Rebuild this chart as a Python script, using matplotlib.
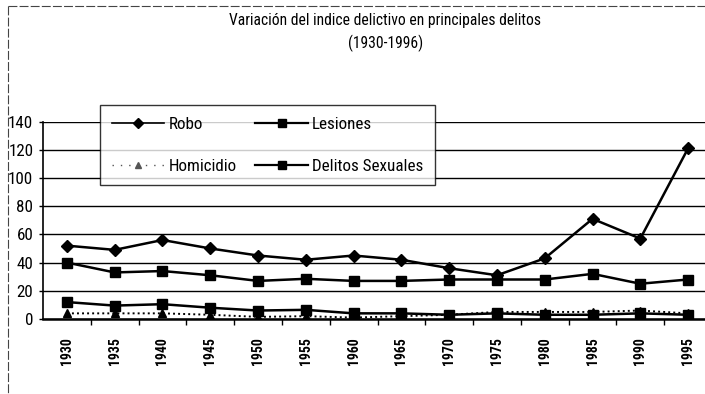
import matplotlib
matplotlib.use("Agg")
import matplotlib.pyplot as plt
from matplotlib import font_manager
from matplotlib.lines import Line2D

years = ["1930", "1935", "1940", "1945", "1950", "1955", "1960",
         "1965", "1970", "1975", "1980", "1985", "1990", "1995"]
robo = [52, 49, 56, 50, 45, 42, 45, 42, 36, 31, 43, 71, 57, 121]
lesiones = [40, 33, 34, 31, 27, 28.5, 27, 27, 28, 28, 28, 32, 25, 28]
homicidio = [4, 4, 4, 3, 1.5, 2, 1, 2, 3, 5, 5, 5, 6, 4]
delitos_sex = [12, 9.5, 10.5, 8, 6, 6.5, 4, 4, 3, 4, 3, 3, 4, 3]
yticks = [0, 20, 40, 60, 80, 100, 120, 140]
title = "Variación del indice delictivo en principales delitos"
subtitle = "(1930-1996)"
labels = ["Robo", "Homicidio", "Lesiones", "Delitos Sexuales"]

# pick a condensed / narrow font if one is installed
names = {f.name for f in font_manager.fontManager.ttflist}
stretch = "normal"
fam = "Liberation Sans"
for cand in ["Liberation Sans Narrow", "Roboto Condensed", "Open Sans Condensed",
             "DejaVu Sans Condensed", "Noto Sans Condensed"]:
    if cand in names:
        fam = cand
        break
else:
    if any(f.name == "DejaVu Sans" and f.stretch in ("condensed", "semi-condensed")
           for f in font_manager.fontManager.ttflist):
        fam = "DejaVu Sans"
        stretch = "condensed"
plt.rcParams["font.family"] = [fam, "DejaVu Sans"]
plt.rcParams["font.stretch"] = stretch

W, H = 705, 394
fig = plt.figure(figsize=(W / 100, H / 100), dpi=100)
renderer = fig.canvas.get_renderer()


def fx(px):
    return px / W


def fy(py):
    return 1 - py / H


def fit_size(text, target, dim="w", **kw):
    t = fig.text(0, 0, text, fontsize=10, **kw)
    bb = t.get_window_extent(renderer)
    t.remove()
    v = bb.width if dim == "w" else bb.height
    return 10 * target / v


title_fs = fit_size(title, 310)
leg_fs = fit_size("Delitos Sexuales", 110)
ytick_fs = fit_size("140", 25)
xtick_fs = fit_size("1930", 28, dim="h", rotation=90, fontweight="bold")

# axes: x from 43 to 712 px, y from 319 (0) to 121.5 (140)
ax = fig.add_axes([fx(43), fy(319), fx(712 - 43), (319 - 121.5) / H])
x = list(range(len(years)))

ax.plot(x, robo, color="black", lw=1.8, marker="D", ms=6.5, zorder=4)
ax.plot(x, lesiones, color="black", lw=1.8, marker="s", ms=6.5, zorder=4)
ax.plot(x, homicidio, color="black", lw=1.4, ls=(0, (1, 1.6)), marker="^",
        ms=5.5, zorder=3)
ax.plot(x, delitos_sex, color="black", lw=1.8, marker="s", ms=6.5, zorder=4)

ax.set_xlim(-0.5, len(years) - 0.5)
ax.set_ylim(0, 140)
ax.set_yticks(yticks)
ax.set_yticklabels([str(v) for v in yticks], fontsize=ytick_fs)
ax.set_xticks(x)
ax.set_xticklabels(years, rotation=90, fontsize=xtick_fs, fontweight="bold")
ax.set_xticks([i + 0.5 for i in x], minor=True)
ax.tick_params(axis="x", which="major", length=0, pad=13)
ax.tick_params(axis="x", which="minor", length=4, width=1, direction="out")
ax.tick_params(axis="y", length=3, width=1, pad=4)
for s in ["top", "right"]:
    ax.spines[s].set_visible(False)
ax.spines["left"].set_linewidth(1.2)
ax.spines["bottom"].set_linewidth(1.8)
ax.yaxis.grid(True, color="black", lw=1)
ax.set_axisbelow(True)

fig.text(fx(385), fy(20), title, ha="center", va="center", fontsize=title_fs)
fig.text(fx(386), fy(43), subtitle, ha="center", va="center", fontsize=title_fs)

handles = [
    Line2D([], [], color="black", lw=1.2, marker="D", ms=5),
    Line2D([], [], color="#555555", lw=1.0, ls=(0, (1, 5)), marker="^", ms=5),
    Line2D([], [], color="black", lw=1.6, marker="s", ms=6),
    Line2D([], [], color="black", lw=1.6, marker="s", ms=6),
]
leg = fig.legend(handles, labels, ncol=2, mode="expand",
                 bbox_to_anchor=(fx(100), fy(105), fx(435 - 100), 0),
                 loc="upper left", fontsize=leg_fs, frameon=True, fancybox=False,
                 edgecolor="black", borderaxespad=0, handlelength=3.1,
                 handletextpad=0.25, labelspacing=1.6, borderpad=0.68)
leg.get_frame().set_linewidth(1.0)
leg.set_zorder(10)

# outer dashed frame (top and left)
fig.add_artist(Line2D([fx(8), 1], [fy(6), fy(6)], color="#444444", lw=0.8,
                      ls=(0, (8, 2))))
fig.add_artist(Line2D([fx(8), fx(8)], [fy(6), 0], color="#444444", lw=0.8,
                      ls=(0, (8, 2))))

fig.savefig("out.png", dpi=100)
